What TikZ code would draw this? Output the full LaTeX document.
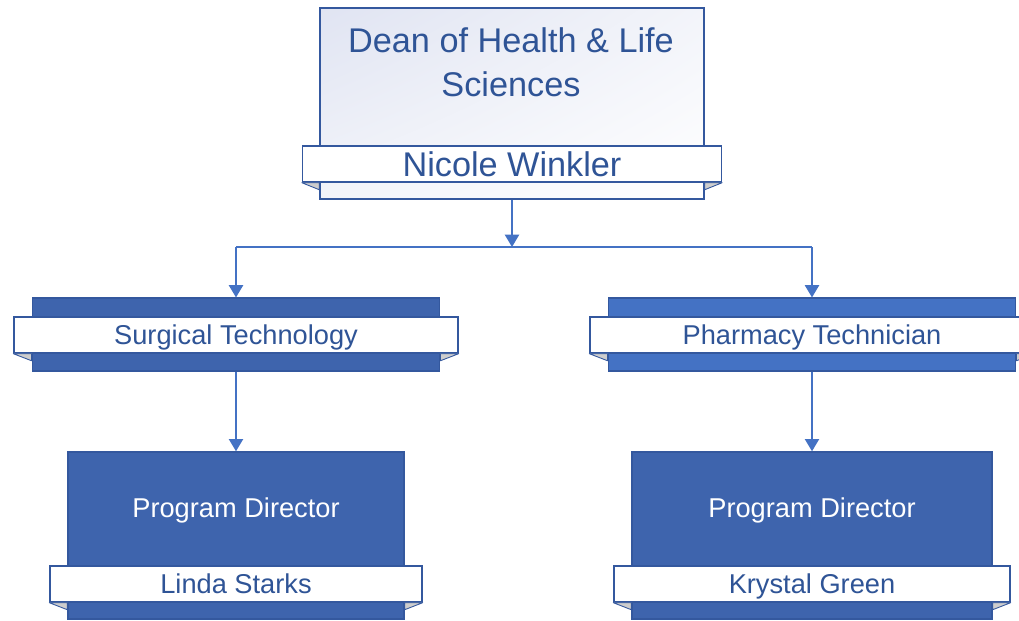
\documentclass[tikz,border=0pt]{standalone}
\usepackage{fontspec}
\setmainfont{Liberation Sans}
\usetikzlibrary{arrows.meta,shadings}
\definecolor{titleblue}{RGB}{47,84,150}
\definecolor{edgeblue}{RGB}{52,88,158}
\definecolor{unitblue}{RGB}{62,100,173}
\definecolor{lightunit}{RGB}{68,114,196}
\definecolor{linkblue}{RGB}{68,114,196}
\definecolor{lavender}{RGB}{224,228,242}
\definecolor{foldgrey}{RGB}{205,205,205}
\tikzset{>={Triangle[length=7pt,width=8pt]}}
\tikzset{
  deanbox/.style={draw=edgeblue,line width=0.9pt,inner sep=0pt,
    minimum width=7.68cm,minimum height=3.82cm,
    upper left=lavender,upper right=lavender!40!white,
    lower left=lavender!40!white,lower right=white},
  unitbox/.style={draw=edgeblue,line width=0.6pt,fill=unitblue,inner sep=0pt,
    minimum width=8.16cm,minimum height=1.46cm},
  dirbox/.style={draw=edgeblue,line width=0.8pt,fill=unitblue,inner sep=0pt,
    minimum height=3.34cm},
  banner/.style={draw=edgeblue,line width=0.8pt,fill=white,inner sep=0pt,
    minimum height=0.72cm,text=titleblue,text height=11.4pt,text depth=0.2pt,
    font=\fontsize{15.5}{18}\selectfont},
  fold/.style={fill=foldgrey,draw=edgeblue,line width=0.5pt,line join=round},
  conn/.style={draw=linkblue,line width=1.1pt}
}

\begin{document}
\begin{tikzpicture}[x=0.02cm,y=-0.02cm]
  \clip (0,0) rectangle (1019,620);
  % top
  \node[deanbox] (dean) at (512,103.5){};
  \node[text=titleblue,align=center,font=\fontsize{19.5}{25}\selectfont] (deantitle) at (511,62){Dean of Health \& Life\\Sciences};
  \node[banner,minimum width=8.38cm,text height=14.2pt,font=\fontsize{19.5}{23}\selectfont] (dean-ban) at (512,164){Nicole Winkler};
  % programs
  \node[unitbox] (surg) at (236,334.5){};
  \node[banner,minimum width=8.88cm] (surg-ban) at (236,335){Surgical Technology};
  \node[unitbox,fill=lightunit] (pharm) at (812,334.5){};
  \node[banner,minimum width=8.88cm] (pharm-ban) at (812,335){Pharmacy Technician};
  % directors
  \node[dirbox,minimum width=6.72cm] (dirl) at (236,535.5){};
  \node[text=white,font=\fontsize{15.5}{18}\selectfont] (dirl-title) at (236,510){Program Director};
  \node[banner,minimum width=7.44cm] (dirl-ban) at (236,584){Linda Starks};
  \node[dirbox,minimum width=7.2cm] (dirr) at (812,535.5){};
  \node[text=white,font=\fontsize{15.5}{18}\selectfont] (dirr-title) at (812,510){Program Director};
  \node[banner,minimum width=7.92cm] (dirr-ban) at (812,584){Krystal Green};
  % folds under the banners
  \foreach \b in {dean,surg,pharm,dirl,dirr}{
    \draw[fold] (\b-ban.south west) -- (\b.west |- \b-ban.south) -- ++(0pt,-4pt) -- cycle;
    \draw[fold] (\b-ban.south east) -- (\b.east |- \b-ban.south) -- ++(0pt,-4pt) -- cycle;
  }
  % links
  \coordinate (split) at (512,247);
  \draw[conn,->] (dean) -- (split);
  \draw[conn] (surg |- split) -- (pharm |- split);
  \draw[conn,->] (surg |- split) -- (surg);
  \draw[conn,->] (pharm |- split) -- (pharm);
  \draw[conn,->] (surg) -- (dirl);
  \draw[conn,->] (pharm) -- (dirr);
\end{tikzpicture}
\end{document}
